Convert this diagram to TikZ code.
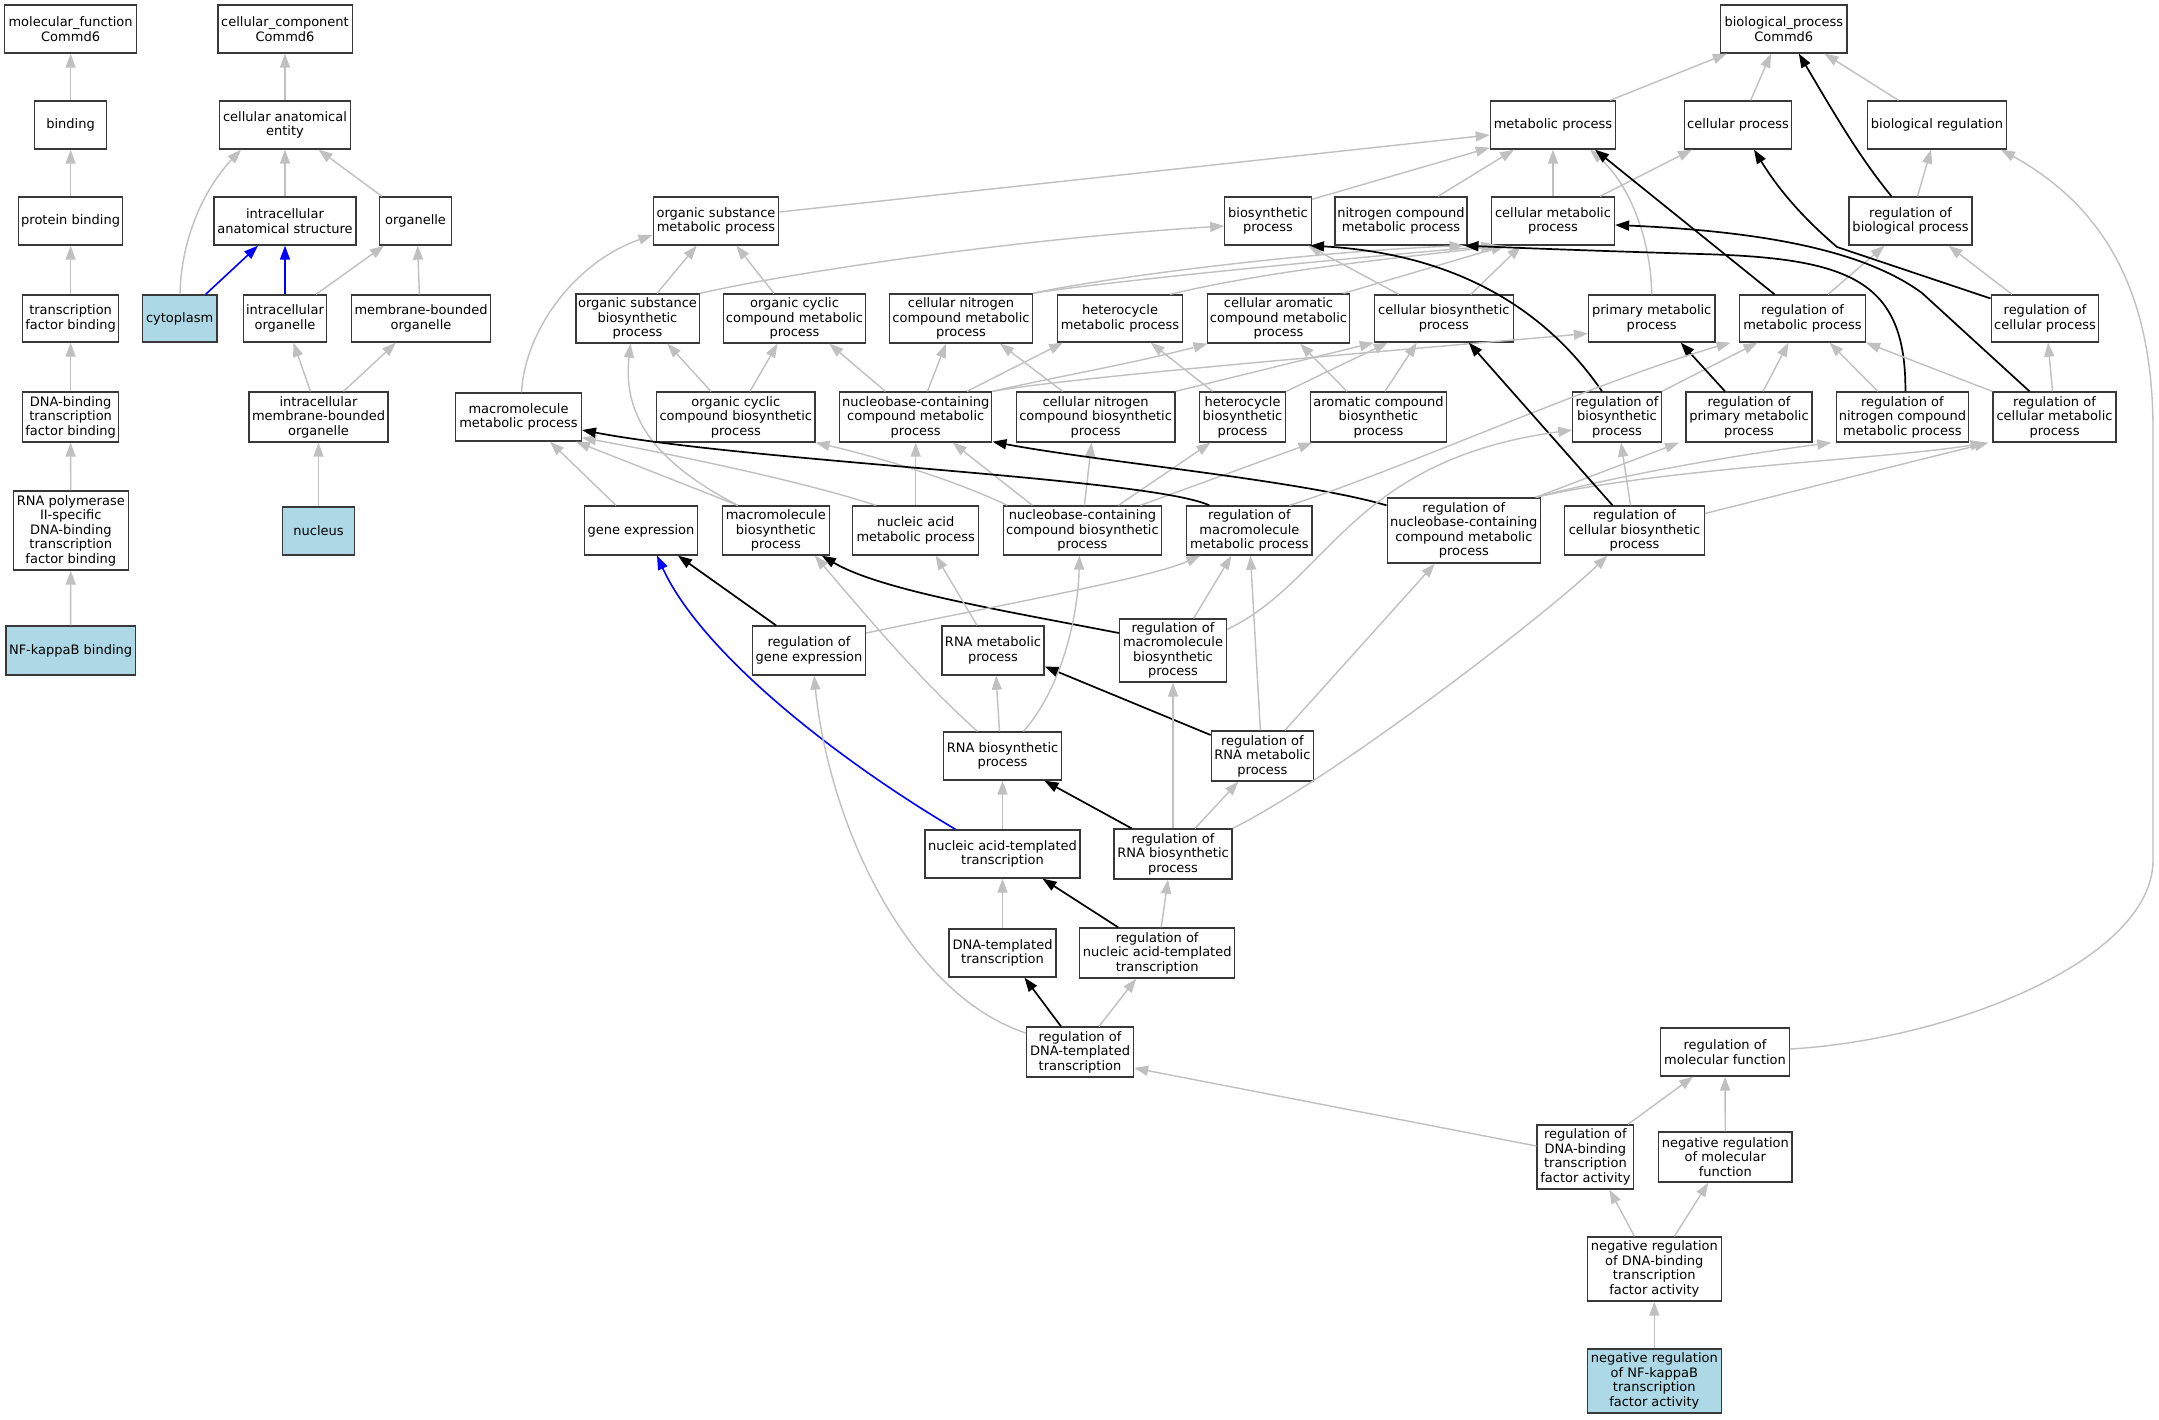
\documentclass[tikz,border=0pt]{standalone}
\usepackage{fontspec}
\setmainfont{DejaVu Sans}
\usetikzlibrary{arrows.meta}
\definecolor{eg}{RGB}{192,192,192}
\definecolor{lb}{RGB}{173,216,230}
\begin{document}
\begin{tikzpicture}[x=1pt,y=-1pt,
  box/.style={draw=black!78, line width=1.3pt, fill=white, inner sep=0pt, align=center,
    font=\fontsize{13pt}{14.5pt}\selectfont, text=black},
  hl/.style={box, fill=lb},
  ga/.style={draw=eg, line width=1.4pt, -{Triangle[length=14pt,width=10pt]}},
  ka/.style={draw=black, line width=1.7pt, -{Triangle[length=14pt,width=10pt]}},
  ba/.style={draw=blue, line width=1.6pt, -{Triangle[length=14pt,width=10pt]}}]
\useasboundingbox (0,0) rectangle (2159,1419);
\fill[white] (0,0) rectangle (2159,1419);
% ---------------- nodes
\node[box, minimum width=131.6pt, minimum height=48pt] (mf) at (70.6,29) {molecular\_function\\Commd6};
\node[box, minimum width=72.3pt, minimum height=48pt] (binding) at (70.6,125) {binding};
\node[box, minimum width=104pt, minimum height=48pt] (protbind) at (70.6,221) {protein binding};
\node[box, minimum width=96.4pt, minimum height=47pt] (tfbind) at (70.6,318.5) {transcription\\factor binding};
\node[box, minimum width=96.4pt, minimum height=50pt] (dnatfb) at (70.6,417) {DNA-binding\\transcription\\factor binding};
\node[box, minimum width=115.3pt, minimum height=79pt] (rnapol) at (70.8,530.5) {RNA polymerase\\II-specific\\DNA-binding\\transcription\\factor binding};
\node[hl, minimum width=129.4pt, minimum height=49pt] (nfkb) at (70.6,650.5) {NF-kappaB binding};
\node[box, minimum width=134.3pt, minimum height=48pt] (cc) at (285,29) {cellular\_component\\Commd6};
\node[box, minimum width=131pt, minimum height=48pt] (cae) at (285,125) {cellular anatomical\\entity};
\node[box, minimum width=141.8pt, minimum height=48pt] (ias) at (285,221) {intracellular\\anatomical structure};
\node[box, minimum width=72.3pt, minimum height=48pt] (organelle) at (415.6,221) {organelle};
\node[hl, minimum width=74.8pt, minimum height=47pt] (cytoplasm) at (179.6,318.5) {cytoplasm};
\node[box, minimum width=83.3pt, minimum height=47pt] (intorg) at (285,318.5) {intracellular\\organelle};
\node[box, minimum width=139.5pt, minimum height=47pt] (mbo) at (421,318.5) {membrane-bounded\\organelle};
\node[box, minimum width=139pt, minimum height=50pt] (imbo) at (318.5,417) {intracellular\\membrane-bounded\\organelle};
\node[hl, minimum width=72.3pt, minimum height=48pt] (nucleus) at (318.5,531) {nucleus};
\node[box, minimum width=126.2pt, minimum height=48pt] (bp) at (1783.8,29) {biological\_process\\Commd6};
\node[box, minimum width=125.3pt, minimum height=48pt] (mp) at (1553,125) {metabolic process};
\node[box, minimum width=107.3pt, minimum height=48pt] (cp) at (1738,125) {cellular process};
\node[box, minimum width=138.8pt, minimum height=48pt] (br) at (1937,125) {biological regulation};
\node[box, minimum width=125.6pt, minimum height=48pt] (osmp) at (716,221) {organic substance\\metabolic process};
\node[box, minimum width=86.4pt, minimum height=48pt] (bsp) at (1268,221) {biosynthetic\\process};
\node[box, minimum width=131.8pt, minimum height=48pt] (ncmp) at (1401,221) {nitrogen compound\\metabolic process};
\node[box, minimum width=122.9pt, minimum height=48pt] (cmp) at (1553,221) {cellular metabolic\\process};
\node[box, minimum width=123pt, minimum height=48pt] (rbp) at (1910.5,221) {regulation of\\biological process};
\node[box, minimum width=123.3pt, minimum height=49pt] (osbp) at (637.5,318.5) {organic substance\\biosynthetic\\process};
\node[box, minimum width=142.6pt, minimum height=49pt] (occmp) at (794.5,318.5) {organic cyclic\\compound metabolic\\process};
\node[box, minimum width=142.5pt, minimum height=49pt] (cncmp) at (961,318.5) {cellular nitrogen\\compound metabolic\\process};
\node[box, minimum width=125.4pt, minimum height=47pt] (hmp) at (1120,318.5) {heterocycle\\metabolic process};
\node[box, minimum width=142.2pt, minimum height=49pt] (cacmp) at (1278.5,318.5) {cellular aromatic\\compound metabolic\\process};
\node[box, minimum width=138.8pt, minimum height=47pt] (cbsp) at (1443.8,318.5) {cellular biosynthetic\\process};
\node[box, minimum width=126.3pt, minimum height=47pt] (pmp) at (1651.7,318.5) {primary metabolic\\process};
\node[box, minimum width=125.8pt, minimum height=47pt] (rmp) at (1802.5,318.5) {regulation of\\metabolic process};
\node[box, minimum width=107.6pt, minimum height=47pt] (rcp) at (2045,318.5) {regulation of\\cellular process};
\node[box, minimum width=125.7pt, minimum height=48pt] (mmp) at (518.5,417) {macromolecule\\metabolic process};
\node[box, minimum width=158.1pt, minimum height=50pt] (occbp) at (735.8,417) {organic cyclic\\compound biosynthetic\\process};
\node[box, minimum width=152.2pt, minimum height=50pt] (nccmp) at (915.7,417) {nucleobase-containing\\compound metabolic\\process};
\node[box, minimum width=158.8pt, minimum height=50pt] (cncbp) at (1095.6,417) {cellular nitrogen\\compound biosynthetic\\process};
\node[box, minimum width=86.1pt, minimum height=50pt] (hbp) at (1242.5,417) {heterocycle\\biosynthetic\\process};
\node[box, minimum width=136.3pt, minimum height=50pt] (acbp) at (1378.5,417) {aromatic compound\\biosynthetic\\process};
\node[box, minimum width=88.5pt, minimum height=50pt] (rbsp) at (1617,417) {regulation of\\biosynthetic\\process};
\node[box, minimum width=126.2pt, minimum height=50pt] (rpmp) at (1749,417) {regulation of\\primary metabolic\\process};
\node[box, minimum width=131.6pt, minimum height=50pt] (rncmp) at (1902.4,417) {regulation of\\nitrogen compound\\metabolic process};
\node[box, minimum width=123pt, minimum height=50pt] (rcmp) at (2054.5,417) {regulation of\\cellular metabolic\\process};
\node[box, minimum width=112.9pt, minimum height=49pt] (ge) at (641,530.5) {gene expression};
\node[box, minimum width=107.1pt, minimum height=49pt] (mbp) at (775.8,530.5) {macromolecule\\biosynthetic\\process};
\node[box, minimum width=126pt, minimum height=49pt] (namp) at (915.7,530.5) {nucleic acid\\metabolic process};
\node[box, minimum width=158.4pt, minimum height=49pt] (nccbp) at (1082.4,530.5) {nucleobase-containing\\compound biosynthetic\\process};
\node[box, minimum width=125.4pt, minimum height=49pt] (rmmp) at (1249.4,530.5) {regulation of\\macromolecule\\metabolic process};
\node[box, minimum width=153.2pt, minimum height=65pt] (rnccmp) at (1463.8,530.5) {regulation of\\nucleobase-containing\\compound metabolic\\process};
\node[box, minimum width=139.4pt, minimum height=49pt] (rcbsp) at (1634.5,530.5) {regulation of\\cellular biosynthetic\\process};
\node[box, minimum width=113pt, minimum height=49pt] (rge) at (809,650.5) {regulation of\\gene expression};
\node[box, minimum width=102.2pt, minimum height=49pt] (rnamp) at (993,650.5) {RNA metabolic\\process};
\node[box, minimum width=107.1pt, minimum height=63pt] (rmbp) at (1173,650.5) {regulation of\\macromolecule\\biosynthetic\\process};
\node[box, minimum width=118.5pt, minimum height=48pt] (rnabp) at (1002.5,756) {RNA biosynthetic\\process};
\node[box, minimum width=102.3pt, minimum height=50pt] (rrnamp) at (1262.4,756) {regulation of\\RNA metabolic\\process};
\node[box, minimum width=155pt, minimum height=48pt] (natt) at (1002.5,854) {nucleic acid-templated\\transcription};
\node[box, minimum width=118.1pt, minimum height=50pt] (rrnabp) at (1173,854) {regulation of\\RNA biosynthetic\\process};
\node[box, minimum width=107.1pt, minimum height=48pt] (dtt) at (1002.5,953) {DNA-templated\\transcription};
\node[box, minimum width=155pt, minimum height=50pt] (rnatt) at (1157.2,953) {regulation of\\nucleic acid-templated\\transcription};
\node[box, minimum width=107pt, minimum height=50pt] (rdtt) at (1080,1052) {regulation of\\DNA-templated\\transcription};
\node[box, minimum width=128.6pt, minimum height=48pt] (rmf) at (1725,1052) {regulation of\\molecular function};
\node[box, minimum width=96.7pt, minimum height=64pt] (rdbtfa) at (1585.4,1157) {regulation of\\DNA-binding\\transcription\\factor activity};
\node[box, minimum width=133.6pt, minimum height=50pt] (nrmf) at (1725.3,1157) {negative regulation\\of molecular\\function};
\node[box, minimum width=133.7pt, minimum height=64pt] (nrdbtfa) at (1654.3,1269) {negative regulation\\of DNA-binding\\transcription\\factor activity};
\node[hl, minimum width=133.7pt, minimum height=64pt] (nrnfkb) at (1654.3,1381) {negative regulation\\of NF-kappaB\\transcription\\factor activity};
% ---------------- molecular function
\draw[ga] (binding) -- (mf);
\draw[ga] (protbind) -- (binding);
\draw[ga] (tfbind) -- (protbind);
\draw[ga] (dnatfb) -- (tfbind);
\draw[ga] (rnapol) -- (dnatfb);
\draw[ga] (nfkb) -- (rnapol);
% ---------------- cellular component
\draw[ga] (cae) -- (cc);
\draw[ga] ([xshift=0.4pt]cytoplasm.north) .. controls (181,240) and (203,190) .. ([xshift=-44pt]cae.south);
\draw[ba] ([xshift=26pt]cytoplasm.north) -- ([xshift=-27pt]ias.south);
\draw[ga] (ias) -- (cae);
\draw[ga] ([xshift=-33.6pt]organelle.north) -- ([xshift=33.5pt]cae.south);
\draw[ba] (intorg) -- (ias);
\draw[ga] ([xshift=31pt]intorg.north) -- ([xshift=-31.6pt]organelle.south);
\draw[ga] ([xshift=-1.6pt]mbo.north) -- ([xshift=2pt]organelle.south);
\draw[ga] ([xshift=-8pt]imbo.north) -- ([xshift=8.4pt]intorg.south);
\draw[ga] ([xshift=25pt]imbo.north) -- ([xshift=-25pt]mbo.south);
\draw[ga] (nucleus) -- (imbo);
% ---------------- biological process, top
\draw[ga] ([xshift=57pt]mp.north) -- ([xshift=-57pt]bp.south);
\draw[ga] ([xshift=12.6pt]cp.north) -- ([xshift=-12.8pt]bp.south);
\draw[ga] ([xshift=-38.5pt]br.north) -- ([xshift=40.7pt]bp.south);
\draw[ka] ([xshift=-19pt]rbp.north) .. controls (1860,158) and (1835,115) .. ([xshift=15pt]bp.south);
\draw[ga] ([xshift=7pt]rbp.north) -- ([xshift=-6pt]br.south);
\draw[ga] ([yshift=9pt]osmp.east) -- ([yshift=-10pt]mp.west);
\draw[ga] ([yshift=-3pt]bsp.north east) -- ([yshift=2pt]mp.south west);
\draw[ga] ([xshift=37pt]ncmp.north) -- ([xshift=-39pt]mp.south);
\draw[ga] (cmp) -- (mp);
\draw[ga] ([xshift=47pt]cmp.north) -- ([xshift=-46pt]cp.south);
\draw[ga] (pmp.north) .. controls (1651,240) and (1630,185) .. ([xshift=37pt]mp.south);
\draw[ka] ([xshift=-28pt]rmp.north) -- ([xshift=42pt]mp.south);
\draw[ga] ([xshift=25.5pt]rmp.north) -- ([xshift=-26pt]rbp.south);
\draw[ga] ([xshift=-33pt]rcp.north) -- ([xshift=38pt]rbp.south);
\draw[ka] ([yshift=20pt]rcp.west) -- (1837,247) .. controls (1815,228) and (1785,200) .. ([xshift=16pt]cp.south);
\draw[ga] ([xshift=3pt]mmp.north) .. controls (525,330) and (575,262) .. ([yshift=-14pt]osmp.west);
% ---------------- row 3 to row 2
\draw[ga] ([xshift=19.5pt]osbp.north) -- ([xshift=-19.3pt]osmp.south);
\draw[ga] ([xshift=-20.5pt]occmp.north) -- ([xshift=20.3pt]osmp.south);
\draw[ga] (osbp.north east) .. controls (780,275) and (1000,240) .. ([yshift=-5pt]bsp.west);
\draw[ga] (cncmp.north east) .. controls (1090,280) and (1300,252) .. ([xshift=-4pt]ncmp.south east);
\draw[ga] (cncmp.north east) .. controls (1100,282) and (1350,258) .. ([xshift=-58pt]cmp.south);
\draw[ga] ([xshift=50pt]hmp.north) .. controls (1280,268) and (1420,256) .. ([xshift=-54pt]cmp.south);
\draw[ga] ([xshift=65pt]cacmp.north) -- ([xshift=-48pt]cmp.south);
\draw[ga] ([xshift=-45pt]cbsp.north) -- ([xshift=40pt]bsp.south);
\draw[ga] ([xshift=27pt]cbsp.north) -- ([xshift=-32pt]cmp.south);
% ---------------- row 4 to row 3
\draw[ga] ([xshift=-24.8pt]occbp.north) -- ([xshift=29.9pt]osbp.south);
\draw[ga] ([xshift=14.2pt]occbp.north) -- ([xshift=-17pt]occmp.south);
\draw[ga] ([xshift=-30.3pt]nccmp.north) -- ([xshift=34.8pt]occmp.south);
\draw[ga] ([xshift=11.7pt]nccmp.north) -- ([xshift=-15pt]cncmp.south);
\draw[ga] ([xshift=51.3pt]nccmp.north) -- ([xshift=-57pt]hmp.south);
\draw[ga] (nccmp.north east) .. controls (1050,378) and (1140,362) .. ([xshift=-71pt]cacmp.south);
\draw[ga] (nccmp.north east) .. controls (1080,376) and (1400,350) .. ([yshift=-15pt]pmp.west);
\draw[ga] ([xshift=-33pt]cncbp.north) -- ([xshift=39pt]cncmp.south);
\draw[ga] (cncbp.north east) -- ([xshift=-70pt]cbsp.south);
\draw[ga] ([xshift=-30pt]hbp.north) -- ([xshift=30.6pt]hmp.south);
\draw[ga] (hbp.north east) -- ([xshift=-56pt]cbsp.south);
\draw[ga] ([xshift=-31.5pt]acbp.north) -- ([xshift=21.5pt]cacmp.south);
\draw[ga] ([xshift=6.5pt]acbp.north) -- ([xshift=-27pt]cbsp.south);
\draw[ka] ([xshift=-15pt]rbsp.north) .. controls (1560,330) and (1480,255) .. ([xshift=42pt]bsp.south);
\draw[ga] (rbsp.north east) -- ([xshift=-45pt]rmp.south);
\draw[ka] ([xshift=-24pt]rpmp.north) -- ([xshift=29pt]pmp.south);
\draw[ga] ([xshift=14pt]rpmp.north) -- ([xshift=-14pt]rmp.south);
\draw[ga] ([xshift=-24.5pt]rncmp.north) -- ([xshift=27pt]rmp.south);
\draw[ka] ([xshift=3pt]rncmp.north) .. controls (1906,280) and (1850,258) .. (1700,254) .. controls (1600,251) and (1520,248) .. ([xshift=-3pt]ncmp.south east);
\draw[ka] ([xshift=-25pt]rcmp.north) -- (1922,293) .. controls (1870,255) and (1780,232) .. ([yshift=-4pt]cmp.east);
\draw[ga] (rcmp.north west) -- (rmp.south east);
\draw[ga] ([xshift=-2pt]rcmp.north) -- ([xshift=3pt]rcp.south);
% ---------------- row 5 to row 4
\draw[ga] ([xshift=-25pt]ge.north) -- ([xshift=31.5pt]mmp.south);
\draw[ga] ([xshift=-38pt]mbp.north) -- ([xshift=-6pt]mmp.south east);
\draw[ga] ([xshift=-40pt]namp.north) .. controls (800,480) and (650,450) .. ([yshift=4pt]mmp.south east);
\draw[ga] ([xshift=-38pt]mbp.north) .. controls (660,465) and (622,420) .. ([xshift=-7pt]osbp.south);
\draw[ga] (namp) -- (nccmp);
\draw[ga] ([xshift=-75pt]nccbp.north) .. controls (950,478) and (870,455) .. (occbp.south east);
\draw[ga] ([xshift=-50pt]nccbp.north) -- ([xshift=37pt]nccmp.south);
\draw[ga] ([xshift=2pt]nccbp.north) -- ([xshift=-4pt]cncbp.south);
\draw[ga] ([xshift=36pt]nccbp.north) -- ([xshift=-32pt]hbp.south);
\draw[ga] ([xshift=58pt]nccbp.north) -- ([xshift=-66pt]acbp.south);
\draw[ka] ([xshift=-40pt]rmmp.north) .. controls (1150,478) and (750,462) .. ([yshift=-13pt]mmp.east);
\draw[ka] ([yshift=-8pt]rnccmp.north west) .. controls (1300,480) and (1100,462) .. ([yshift=1pt]nccmp.south east);
\draw[ga] ([xshift=40pt]rmmp.north) .. controls (1400,470) and (1600,380) .. ([xshift=-72pt]rmp.south);
\draw[ga] ([xshift=72pt]rnccmp.north) -- ([xshift=-70pt]rpmp.south);
\draw[ga] ([xshift=72pt]rnccmp.north) .. controls (1640,470) and (1760,452) .. ([xshift=-71pt]rncmp.south);
\draw[ga] ([xshift=72pt]rnccmp.north) .. controls (1660,468) and (1900,458) .. ([xshift=-70pt]rcmp.south);
\draw[ga] ([xshift=-4pt]rcbsp.north) -- ([xshift=4pt]rbsp.south);
\draw[ga] ([yshift=17pt]rcbsp.east) -- ([xshift=-66pt]rcmp.south);
\draw[ka] ([xshift=-22pt]rcbsp.north) -- ([xshift=25pt]cbsp.south);
% ---------------- row 6
\draw[ga] ([yshift=-11pt]rmbp.north east) .. controls (1330,580) and (1350,460) .. ([yshift=-13pt]rbsp.west);
\draw[ga] ([xshift=20.6pt]rmbp.north) -- ([xshift=-18pt]rmmp.south);
\draw[ka] ([yshift=17.5pt]rmbp.west) .. controls (1000,610) and (880,590) .. ([xshift=46pt]mbp.south);
\draw[ka] ([xshift=-33pt]rge.north) -- ([xshift=37pt]ge.south);
\draw[ga] ([yshift=17.5pt]rge.east) .. controls (1000,605) and (1150,578) .. ([xshift=-49pt]rmmp.south);
\draw[ga] ([xshift=-16pt]rnamp.north) -- ([xshift=20pt]namp.south);
% ---------------- row 7
\draw[ka] ([yshift=21pt]rrnamp.west) -- ([yshift=-16pt]rnamp.east);
\draw[ga] ([xshift=-2pt]rrnamp.north) -- ([xshift=1pt]rmmp.south);
\draw[ga] ([xshift=22.5pt]rrnamp.north) -- ([xshift=-29pt]rnccmp.south);
\draw[ga] ([xshift=-3pt]rnabp.north) -- ([xshift=3pt]rnamp.south);
\draw[ga] ([xshift=-25pt]rnabp.north) .. controls (920,680) and (870,620) .. ([xshift=39pt]mbp.south);
\draw[ga] ([xshift=21pt]rnabp.north) .. controls (1060,690) and (1078,620) .. ([xshift=-3pt]nccbp.south);
% ---------------- row 8
\draw[ga] (natt) -- (rnabp);
\draw[ba] ([xshift=-47pt]natt.north) .. controls (830,755) and (700,650) .. ([xshift=16pt]ge.south);
\draw[ka] ([xshift=-41.4pt]rrnabp.north) -- ([xshift=-18pt]rnabp.south east);
\draw[ga] (rrnabp) -- (rmbp);
\draw[ga] ([xshift=22pt]rrnabp.north) -- ([xshift=-24pt]rrnamp.south);
\draw[ga] (rrnabp.north east) .. controls (1330,780) and (1540,620) .. ([xshift=-27pt]rcbsp.south);
% ---------------- row 9
\draw[ga] ([xshift=4pt]rnatt.north) -- ([xshift=-5pt]rrnabp.south);
\draw[ka] ([xshift=-39pt]rnatt.north) -- ([xshift=40pt]natt.south);
\draw[ga] (dtt) -- (natt);
% ---------------- row 10 and below
\draw[ka] ([xshift=-19pt]rdtt.north) -- ([xshift=22pt]dtt.south);
\draw[ga] ([xshift=19pt]rdtt.north) -- ([xshift=-21pt]rnatt.south);
\draw[ga] ([yshift=19pt]rdtt.west) .. controls (910,995) and (830,830) .. ([xshift=5pt]rge.south);
\draw[ga] ([yshift=11pt]rdbtfa.west) -- ([yshift=-16pt]rdtt.east);
\draw[ga] ([xshift=42.6pt]rdbtfa.north) -- ([xshift=-32pt]rmf.south);
\draw[ga] (nrmf) -- (rmf);
\draw[ga] ([xshift=-19.8pt]nrdbtfa.north) -- ([xshift=24pt]rdbtfa.south);
\draw[ga] ([xshift=20pt]nrdbtfa.north) -- ([xshift=-17pt]nrmf.south);
\draw[ga] (nrnfkb) -- (nrdbtfa);
\draw[ga] ([yshift=3pt]rmf.east) .. controls (1950,1040) and (2153,960) .. (2153,860) -- (2153,430) .. controls (2153,300) and (2110,210) .. ([xshift=64pt]br.south);
\end{tikzpicture}
\end{document}
